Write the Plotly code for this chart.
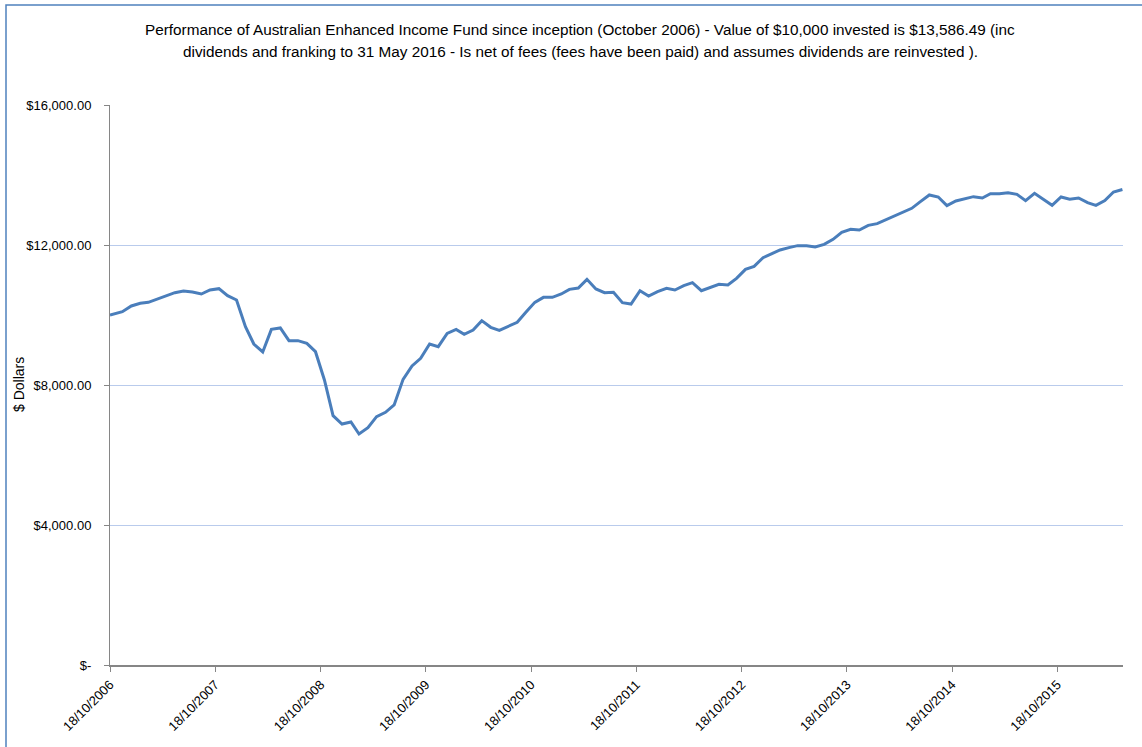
import plotly.graph_objects as go
import pandas as pd

start_date = "2006-10-18"
month_end_dates = pd.date_range("2006-11-30", "2016-05-31", freq="ME").strftime("%Y-%m-%d").tolist()
dates = [start_date] + month_end_dates

values = [
    10000,
    10094, 10257, 10334, 10362, 10457, 10552, 10638, 10686, 10657, 10600, 10714, 10752,
    10552, 10428, 9667, 9171, 8943, 9590, 9629, 9267, 9267, 9190, 8952, 8143,
    7124, 6886, 6943, 6600, 6781, 7095, 7219, 7429, 8162, 8543, 8762, 9171,
    9095, 9476, 9590, 9448, 9571, 9838, 9648, 9562, 9686, 9790, 10076, 10362,
    10505, 10505, 10600, 10733, 10771, 11019, 10743, 10638, 10648, 10352, 10314, 10695,
    10543, 10667, 10762, 10714, 10838, 10924, 10695, 10790, 10876, 10857, 11048, 11305,
    11390, 11638, 11752, 11857, 11924, 11981, 11981, 11943, 12019, 12162, 12362, 12448,
    12429, 12562, 12610, 12714, 12829, 12924, 13048, 13238, 13429, 13371, 13124, 13257,
    13314, 13381, 13343, 13467, 13467, 13495, 13448, 13267, 13476, 13295, 13133, 13371,
    13305, 13343, 13209, 13133, 13267, 13514, 13586.49,
]

x_tick_vals = ["2006-10-18", "2007-10-18", "2008-10-18", "2009-10-18", "2010-10-18",
               "2011-10-18", "2012-10-18", "2013-10-18", "2014-10-18", "2015-10-18"]
x_tick_text = ["18/10/2006", "18/10/2007", "18/10/2008", "18/10/2009", "18/10/2010",
               "18/10/2011", "18/10/2012", "18/10/2013", "18/10/2014", "18/10/2015"]
y_tick_vals = [0, 4000, 8000, 12000, 16000]
y_tick_text = ["$-", "$4,000.00", "$8,000.00", "$12,000.00", "$16,000.00"]

title_line1 = ("Performance of Australian Enhanced Income Fund since inception (October 2006) - "
               "Value of $10,000 invested is $13,586.49 (inc")
title_line2 = ("dividends and franking to 31 May 2016 - Is net of fees (fees have been paid) "
               "and assumes dividends are reinvested ).")

FONT = "Liberation Sans, Arial, sans-serif"

fig = go.Figure()
fig.add_trace(go.Scatter(x=dates, y=values, mode="lines",
                         line=dict(color="#4a7ebb", width=3), showlegend=False,
                         hoverinfo="x+y"))

W, H = 1142, 747
L, R, T, B = 110, 1123, 105, 665
pw, ph = R - L, B - T

def px(xp):
    return (xp - L) / pw

def py(yp):
    return (B - yp) / ph

fig.update_layout(
    width=W, height=H,
    margin=dict(l=L, r=W - R, t=T, b=H - B),
    paper_bgcolor="white", plot_bgcolor="white",
    xaxis=dict(type="date", range=["2006-10-18", "2016-06-02"],
               tickvals=x_tick_vals, ticktext=x_tick_text, tickangle=-45,
               showgrid=False, showline=True, linecolor="#868686", linewidth=2,
               ticks="outside", ticklen=5, tickcolor="#868686",
               tickfont=dict(family=FONT, size=13, color="#000000"), zeroline=False),
    yaxis=dict(range=[0, 16000], tickvals=y_tick_vals, ticktext=y_tick_text,
               showgrid=True, gridcolor="#b9cbec", gridwidth=1,
               showline=True, linecolor="#868686", linewidth=1,
               ticks="outside", ticklen=5, tickcolor="#868686", ticklabelstandoff=10,
               tickfont=dict(family=FONT, size=13, color="#000000"), zeroline=False),
    annotations=[
        dict(text=title_line1, x=px(580), y=py(29), xref="paper", yref="paper",
             xanchor="center", yanchor="middle", showarrow=False,
             font=dict(family=FONT, size=15.3, color="#000000")),
        dict(text=title_line2, x=px(580), y=py(52), xref="paper", yref="paper",
             xanchor="center", yanchor="middle", showarrow=False,
             font=dict(family=FONT, size=15.3, color="#000000")),
        dict(text="$ Dollars", textangle=-90, x=px(19), y=py(385),
             xref="paper", yref="paper", xanchor="center", yanchor="middle",
             showarrow=False, font=dict(family=FONT, size=14, color="#000000")),
    ],
    shapes=[dict(type="rect", xref="paper", yref="paper",
                 x0=px(6), x1=px(1150), y0=py(760), y1=py(5),
                 line=dict(color="#4f81bd", width=1.5), layer="below")],
)

fig.write_html("out.html", config={"displayModeBar": False},
               post_script="document.body.style.margin='0';")
